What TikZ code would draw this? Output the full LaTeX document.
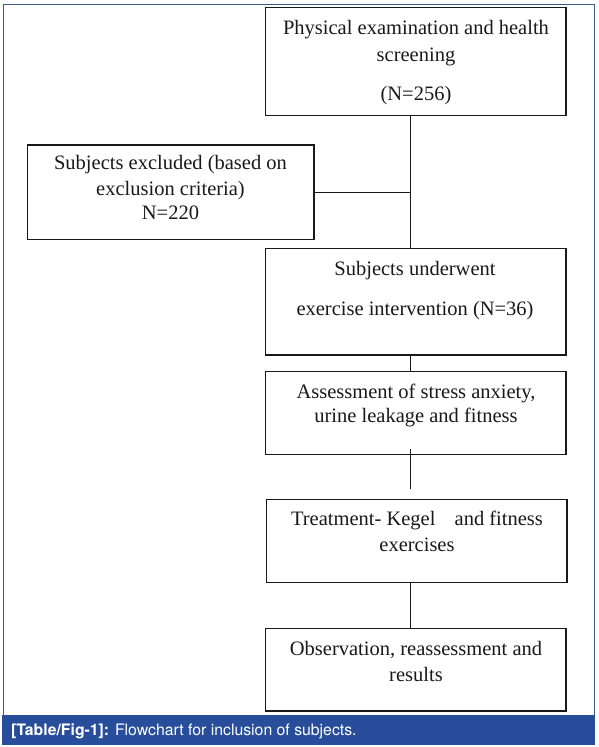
\documentclass[tikz,border=0pt]{standalone}
\usepackage{fontspec}
\setmainfont{Liberation Serif}
\newfontfamily\capfont{TeX Gyre Heros}
\usetikzlibrary{calc}
\definecolor{framecol}{RGB}{60,90,140}
\definecolor{barcol}{RGB}{40,78,155}
\definecolor{ink}{RGB}{25,25,25}
\begin{document}
\begin{tikzpicture}[x=1pt,y=-1pt,
  box/.style={draw=ink,line width=1.3pt,rectangle,inner sep=0pt,outer sep=0pt},
  link/.style={draw=ink,line width=1.3pt},
  txt/.style={anchor=base,inner sep=0pt,font=\fontsize{20.5}{25}\selectfont,text=ink},
  captxt/.style={anchor=base west,inner sep=0pt,text=white,font=\capfont\fontsize{15.8}{18}\selectfont}]
\useasboundingbox (0,0) rectangle (599,747);
% frame and caption bar
\draw[framecol,line width=0.8pt] (3.3,4.3) rectangle (594.5,715);
\fill[barcol] (1.5,715) rectangle (595,744.5);
% boxes
\node[box,minimum width=300.3pt,minimum height=108.4pt] (top) at (415.85,61.5) {};
\node[box,minimum width=286.7pt,minimum height=94.5pt] (excl) at (170.65,192.25) {};
\node[box,minimum width=300.3pt,minimum height=106.7pt] (b3) at (415.85,301.65) {};
\node[box,minimum width=300.3pt,minimum height=82.6pt] (b4) at (415.85,413) {};
\node[box,minimum width=300.3pt,minimum height=83pt] (b5) at (416.85,540.8) {};
\node[box,minimum width=300.3pt,minimum height=82.3pt] (b6) at (415.85,669.85) {};
% texts
\node[txt] (t1a) at (416,34) {Physical examination and health};
\node[txt] (t1b) at (416,61) {screening};
\node[txt] (t1c) at (416,100.5) {(N=256)};
\node[txt] (t2a) at (170.5,169.5) {Subjects excluded (based on};
\node[txt] (t2b) at (170.5,195) {exclusion criteria)};
\node[txt] (t2c) at (170.5,219) {N=220};
\node[txt] (t3a) at (415,275) {Subjects underwent};
\node[txt] (t3b) at (415,315) {exercise intervention (N=36)};
\node[txt] (t4a) at (416,398.3) {Assessment of stress anxiety,};
\node[txt] (t4b) at (416,422.7) {urine leakage and fitness};
\node[txt] (t5a) at (417,525) {Treatment- Kegel\hspace{14pt} and fitness};
\node[txt] (t5b) at (417,551) {exercises};
\node[txt] (t6a) at (416,655) {Observation, reassessment and};
\node[txt] (t6b) at (416,681) {results};
% connectors
\coordinate (trunk) at (410.3,0);
\draw[link] (top.south -| trunk) -- (b3.north -| trunk);
\draw[link] (excl.east) -- (excl.east -| trunk);
\draw[link] (b3.south -| trunk) -- (b4.north -| trunk);
\coordinate (c4a) at ($(b4.south -| trunk)+(0,-5)$);
\coordinate (c4b) at ($(b5.north -| trunk)+(0,-10)$);
\draw[link] (c4a) -- (c4b);
\draw[link] (b5.south -| trunk) -- (b6.north -| trunk);
% caption
\node[captxt] (cap) at (11,735.7) {{\bfseries [Table/Fig-1]:} Flowchart for inclusion of subjects.};
\end{tikzpicture}
\end{document}
